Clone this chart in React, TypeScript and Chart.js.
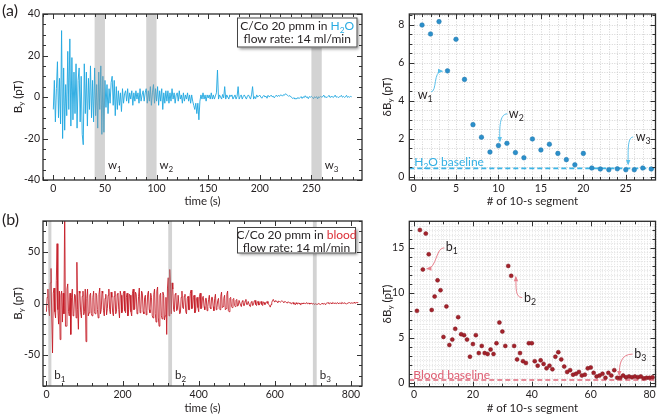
import React, { useEffect, useRef } from "react";
import { Chart, registerables } from "chart.js";
Chart.register(...registerables);

const FONT = "Lato, 'Open Sans', sans-serif";
const INK = "#231f20";

// ================= (a) left: B_y vs time, H2O =================
const STEP_A = 1; // seconds between samples
const byA: number[] = [
  -6, 8, -12, 4, 17, -10, 9, -13, 32, -20,
  14, -16, 6, -9, 22, -6, 28, -14, 19, -11,
  12, -8, 16, -15, 8, 14, -12, 10, -18, -23,
  16, -8, 12, -14, 9, -6, 15, -10, 8, -12,
  14, -9, 6, -15, 12, -6, 15, -18, 10, -17,
  8, -5, 6, -8, 4, -3, 7, 10, -4, 8,
  -9, 5, -6, 3, -4, 2, -7, 4, -3, 1.5,
  3, -2, 4, -3, 2, -1, 3, -4, 2, -2,
  3, -1, 2, -3, 4, -2, 1, 3, -2, 2,
  4, -3, 3, -2, 5, -4, 2, 6, -3, 4,
  -2, 5, -4, 3, -2, 4, -6, 2, -3, 3,
  -2, 3, -3, 2, -2, 4, -1, 2, -3, 1,
  2, -2, 3, -1, 1, -3, 2, -2, 1, -1,
  2, -2, 1, -3, 1, -2, -4, -6, -3, -8,
  -3, -11, -2, 1, -1, 2, -1, 1, -2, 1,
  -0.5, 1, -1, 2, -1, 1, -1, 0.5, 2, 13,
  -1, 1, 0, -1, 1.2, -0.4, 5, -1, 1, 0,
  -1, 1, 0.2, 1, -1, 0, 1, -1, 0.3, 5,
  -1, 0.2, 1, -1, 0.3, 1, 0, -1, 0.4, 1,
  0, -1, 1, 5, -1, 0.2, -0.8, 1, 0, 0.4,
  0.9, 0, -0.6, 0.3, 0.8, 0, 0.4, -0.6, 0.8, 0.1,
  0.3, 0.9, 0.1, 0.4, -0.4, 0.3, 0.9, 0.2, 0.8, 0.3,
  1.0, 0.9, 0.4, 1.1, 0.9, 1.6, 1.1, 0.8, 0.3, 0.7,
  0.1, -0.2, -0.8, -0.3, -1.0, -0.7, -0.9, -0.2, -0.8, -0.3,
  0.2, -0.7, 0.1, -0.3, 0.6, -0.2, 0.1, -0.8, 0.2, -0.1,
  0.3, -0.2, -0.8, 0.1, -0.3, 0.2, -0.9, 0.1, -0.2, 0.3,
  -0.1, 0.2, 0.9, -0.2, 0.1, -0.3, 0.2, 0.8, -0.2, 0.1,
  0.3, -0.2, 0.1, 0.9, -0.1, 0.2, -0.3, 0.1, 0.2, 0.8,
  -0.1, 0.3, -0.2, 0.1, 0.8, -0.2, 0.2, -0.1, 0.3, 0.1,
];
const bandsA = [
  { from: 40, to: 50, name: "w", sub: "1" },
  { from: 90, to: 100, name: "w", sub: "2" },
  { from: 250, to: 260, name: "w", sub: "3" },
];
const xTicksA = [0, 50, 100, 150, 200, 250];
const yTicksA = [-40, -20, 0, 20, 40];

// ================= (a) right: dB_y per 10-s segment, H2O =================
const dBA: number[] = [
  7.98, 7.51, 8.16, 5.57, 7.23, 5.12, 2.74, 2.08, 1.3, 1.64,
  1.76, 1.27, 1.0, 1.99, 1.41, 1.71, 1.23, 0.9, 0.63, 1.23,
  0.46, 0.41, 0.37, 0.42, 0.37, 0.37, 0.46, 0.41,
];
const baselineA = 0.44;
const xTicksA2 = [0, 5, 10, 15, 20, 25];
const yTicksA2 = [0, 2, 4, 6, 8];
const annA = [
  { name: "w", sub: "1", at: [1.37, 4.31], path: [[2.07, 4.47], [2.77, 4.47], [2.3, 5.57], [3.35, 5.55]] },
  { name: "w", sub: "2", at: [12.1, 3.3], path: [[11.05, 3.31], [10.12, 3.31], [10.12, 2.57], [10.17, 1.88]] },
  { name: "w", sub: "3", at: [27.04, 2.09], path: [[25.87, 2.09], [25.17, 2.09], [25.28, 1.3], [25.28, 0.67]] },
];

// ================= (b) left: B_y vs time, blood =================
const STEP_B = 2; // seconds between samples
const byB: number[] = [
  -8, 6, 14, -5, -12, 20, 34, -15, -48, 10,
  15, -8, -14, 22, 58, -6, -20, 12, -35, 8,
  12, -18, 10, -10, 95, -22, -22, 14, 19, -8,
  -12, 10, -30, 6, 14, -12, -10, 9, 8, -14,
  40, -6, -25, 12, 10, -9, -14, 7, 12, -11,
  -8, 14, -37, 5, 14, -12, -9, 8, 10, -10,
  -12, 6, 12, -8, -10, 10, 8, -6, -14, 9,
  15, -10, -6, 12, 10, -7, -12, 5, 9, -11,
  -5, 8, 14, -6, -10, 11, 6, -9, -12, 7,
  12, -10, -8, 9, 10, -6, -14, 12, 8, -9,
  -6, 10, 12, -7, -9, 6, 10, -12, -6, 9,
  8, -8, -12, 10, 14, -6, -5, 11, 9, -10,
  -8, 7, 15, -9, -6, 12, 10, -8, -10, 6,
  8, -11, -7, 9, 12, -6, -9, 10, 6, -12,
  -14, 9, 14, -10, -18, 12, 16, -14, -22, 8,
  10, -12, -15, 11, 8, -16, -12, 6, -30, 15,
  25, -12, 33, 18, -10, 20, 14, -6, -8, 9,
  10, -7, -6, 8, 8, -10, -9, 6, 12, -4,
  -5, 7, 9, -8, -10, 5, 7, -6, -6, 10,
  13, -5, -4, 6, 8, -9, -7, 5, 6, -4,
  -8, 7, 10, -5, -4, 6, 7, -3, -6, 5,
  5, -7, -3, 4, 8, -4, -5, 6, 6, -3,
  -7, 5, 9, -6, -4, 3, 5, -5, -6, 7,
  11, -4, -3, 5, 8, -6, -5, 9, 12, -7,
  -8, 5, 6, -3, -4, 4, 5, -2, -3, 3,
  4, -2.5, -2, 3, 3, -1.5, -3, 2, 3, -2,
  -2, 2.5, 4, -1, -1, 2, 2, -2.5, -3, 1.5,
  2, -2, -1, 2.5, 3, -1, -2, 1.5, 2, -1.5,
  -1, 1, 2, -1, -2, 1.5, 1, -1, 0, 1.5,
  2, 0, -1, -2, -3.5, -1, 1, 3, 4, 2,
  1.5, 2.8, 2.5, 1.5, 1, 2.4, 2, 1.2, 1.2, 2.5,
  2.2, 1.5, 1, 2, 1.8, 1, 0.6, 1.4, 1.6, 0.8,
  0.4, 0.8, -0.4, 0.3, 1, -0.6, -0.2, -1.2, 0.8, -0.3,
  -0.6, 0.5, 0.4, -0.5, -1.5, 0.2, 0.2, -0.5, 0.6, 0.1,
  -0.2, 0.5, 0.8, -0.3, 0.1, 0.5, -0.6, 0.1, 0.4, -0.5,
  -0.3, 0.2, -1.0, -0.3, -0.4, -0.9, -0.8, -0.1, -0.2, -0.7,
  -1.0, -0.4, 0.2, -0.3, -0.5, 0.1, -0.9, -0.2, 0.3, 0.6,
  0.8, 0.1, -0.2, 0.5, 0.4, -0.3, 1.0, 0.4, 0.1, 0.6,
  0.2, -0.2, 0.9, 0.3, -0.2, 0.6, 0.3, -0.1, 1.1, 0.5,
  0.1, 0.6, 0.4, -0.1, -0.6, 0.2, 0.3, 0.8, 0.9, 0.3,
  0.2, 0.7, 0.4, 0.1, 1.2, 0.5, 0.3, 0.9, 1.0, 0.6,
];
const bandsB = [
  { from: 5, to: 13, name: "b", sub: "1" },
  { from: 320, to: 330, name: "b", sub: "2" },
  { from: 700, to: 710, name: "b", sub: "3" },
];
const xTicksB = [0, 200, 400, 600, 800];
const yTicksB = [-50, 0, 50];

// ================= (b) right: dB_y per 10-s segment, blood =================
const dBB: number[] = [
  8.0, 17.0, 12.6, 16.6, 14.3, 8.1, 9.6, 11.4, 10.3, 5.1,
  8.5, 4.2, 4.8, 6.0, 7.3, 5.4, 5.3, 4.8, 2.9, 4.3,
  5.3, 3.3, 4.1, 3.3, 3.2, 3.7, 3.2, 4.4, 6.7, 5.7,
  4.1, 13.0, 11.9, 4.1, 2.6, 3.3, 2.4, 2.2, 4.4, 4.4,
  2.4, 1.9, 2.5, 2.1, 1.6, 1.9, 1.5, 2.9, 3.4, 2.6,
  1.8, 1.2, 1.4, 0.9, 1.0, 1.2, 0.8, 0.9, 1.6, 1.7,
  1.1, 0.7, 0.8, 1.0, 0.55, 1.1, 0.8, 1.4, 0.55, 0.55,
  0.8, 0.6, 0.7, 0.6, 0.7, 0.6, 0.7, 0.5, 0.55, 0.55, 0.6,
];
const baselineB = 0.3;
const xTicksB2 = [0, 20, 40, 60, 80];
const yTicksB2 = [0, 5, 10, 15];
const annB = [
  { name: "b", sub: "1", at: [12.8, 15.1], path: [[10.27, 15.02], [7.41, 15.08], [7.74, 12.74], [4.55, 12.69]] },
  { name: "b", sub: "2", at: [39.4, 9.41], path: [[36.7, 9.47], [34.34, 9.52], [34.7, 10.52], [34.58, 11.74]] },
  { name: "b", sub: "3", at: [76.8, 3.19], path: [[74.24, 3.19], [70.03, 3.19], [69.7, 1.97], [69.7, 0.86]] },
];

// ---------------- drawing helpers ----------------
type Part = [string, boolean?, string?];
function rich(ctx: CanvasRenderingContext2D, parts: Part[], x: number, y: number, size: number, align: string, color: string, subDrop = 0.25) {
  const fontOf = (sub?: boolean) => `${sub ? size * 0.7 : size}px ${FONT}`;
  let w = 0;
  for (const p of parts) { ctx.font = fontOf(p[1]); w += ctx.measureText(p[0]).width; }
  let cx = align === "center" ? x - w / 2 : align === "right" ? x - w : x;
  ctx.textAlign = "left";
  ctx.textBaseline = "alphabetic";
  for (const p of parts) {
    ctx.font = fontOf(p[1]);
    ctx.fillStyle = p[2] || color;
    ctx.fillText(p[0], cx, p[1] ? y + size * subDrop : y);
    cx += ctx.measureText(p[0]).width;
  }
  return w;
}

function isMult(v: number, step: number) {
  const r = v / step;
  return Math.abs(r - Math.round(r)) < 1e-6;
}

function forSteps(scale: any, step: number, cb: (px: number, v: number) => void) {
  for (let k = Math.ceil(scale.min / step - 1e-9); k * step <= scale.max + 1e-9; k++) {
    cb(scale.getPixelForValue(k * step), k * step);
  }
}

function drawFrame(chart: any, xMinor: number, xMajor: number, yMinor: number, yMajor: number) {
  const { ctx, chartArea: a, scales } = chart;
  const x = scales.x, y = scales.y;
  ctx.save();
  ctx.strokeStyle = "#333";
  ctx.lineWidth = 1;
  ctx.beginPath();
  forSteps(x, xMinor, (px, v) => {
    const L = isMult(v, xMajor) ? 5 : 3;
    const p = Math.round(px) + 0.5;
    ctx.moveTo(p, a.bottom); ctx.lineTo(p, a.bottom - L);
    ctx.moveTo(p, a.top); ctx.lineTo(p, a.top + L);
  });
  forSteps(y, yMinor, (py, v) => {
    const L = isMult(v, yMajor) ? 5 : 3;
    const p = Math.round(py) + 0.5;
    ctx.moveTo(a.left, p); ctx.lineTo(a.left + L, p);
    ctx.moveTo(a.right, p); ctx.lineTo(a.right - L, p);
  });
  ctx.stroke();
  ctx.lineWidth = 1.3;
  ctx.strokeStyle = "#2b2b2b";
  ctx.strokeRect(a.left, a.top, a.width, a.height);
  ctx.restore();
}

function drawGrid(chart: any, xStep: number, yStep: number, color: string) {
  const { ctx, chartArea: a, scales } = chart;
  ctx.save();
  ctx.strokeStyle = color;
  ctx.lineWidth = 0.8;
  ctx.setLineDash([1, 1.5]);
  ctx.beginPath();
  forSteps(scales.x, xStep, (px) => { const p = Math.round(px) + 0.5; ctx.moveTo(p, a.top); ctx.lineTo(p, a.bottom); });
  forSteps(scales.y, yStep, (py) => { const p = Math.round(py) + 0.5; ctx.moveTo(a.left, p); ctx.lineTo(a.right, p); });
  ctx.stroke();
  ctx.restore();
}

function drawBands(chart: any, bands: any[], labelY: number) {
  const { ctx, chartArea: a, scales } = chart;
  ctx.save();
  ctx.beginPath();
  ctx.rect(a.left, a.top, a.width, a.height);
  ctx.clip();
  ctx.fillStyle = "rgba(150,150,150,0.42)";
  for (const b of bands) {
    const x0 = scales.x.getPixelForValue(b.from);
    const x1 = scales.x.getPixelForValue(b.to);
    ctx.fillRect(x0, a.top, x1 - x0, a.height);
  }
  ctx.restore();
  ctx.save();
  for (const b of bands) {
    const x1 = scales.x.getPixelForValue(b.to);
    rich(ctx, [[b.name], [b.sub, true]], x1 + 3, scales.y.getPixelForValue(labelY) + 4, 11.5, "left", INK);
  }
  ctx.restore();
}

function drawAnnotations(chart: any, anns: any[], color: string) {
  const { ctx, scales } = chart;
  const P = (p: number[]) => [scales.x.getPixelForValue(p[0]), scales.y.getPixelForValue(p[1])];
  ctx.save();
  for (const an of anns) {
    const [lx, ly] = P(an.at);
    rich(ctx, [[an.name], [an.sub, true]], lx, ly + 4, 12.5, "center", INK);
    const [p0, c1, c2, p3] = an.path.map(P);
    ctx.strokeStyle = color;
    ctx.lineWidth = 1;
    ctx.beginPath();
    ctx.moveTo(p0[0], p0[1]);
    ctx.bezierCurveTo(c1[0], c1[1], c2[0], c2[1], p3[0], p3[1]);
    ctx.stroke();
    const ang = Math.atan2(p3[1] - c2[1], p3[0] - c2[0]);
    const L = 4, W = 2.2;
    ctx.fillStyle = color;
    ctx.beginPath();
    ctx.moveTo(p3[0] + Math.cos(ang) * 1.5, p3[1] + Math.sin(ang) * 1.5);
    ctx.lineTo(p3[0] - Math.cos(ang) * L - Math.sin(ang) * W, p3[1] - Math.sin(ang) * L + Math.cos(ang) * W);
    ctx.lineTo(p3[0] - Math.cos(ang) * L + Math.sin(ang) * W, p3[1] - Math.sin(ang) * L - Math.cos(ang) * W);
    ctx.closePath();
    ctx.fill();
  }
  ctx.restore();
}

function drawLegendBox(ctx: CanvasRenderingContext2D, x: number, y: number, w: number, h: number, line1: Part[], line2: Part[], y1: number, y2: number) {
  ctx.save();
  ctx.shadowColor = "rgba(0,0,0,0.45)";
  ctx.shadowBlur = 3;
  ctx.shadowOffsetX = 1.5;
  ctx.shadowOffsetY = 1.5;
  ctx.fillStyle = "#fff";
  ctx.fillRect(x, y, w, h);
  ctx.restore();
  ctx.save();
  ctx.strokeStyle = "#444";
  ctx.lineWidth = 1;
  ctx.strokeRect(x + 0.5, y + 0.5, w - 1, h - 1);
  rich(ctx, line1, x + w / 2, y1, 12, "center", INK);
  rich(ctx, line2, x + w / 2, y2, 12, "center", INK);
  ctx.restore();
}

function vTitle(ctx: CanvasRenderingContext2D, parts: Part[], cx: number, cy: number, size: number) {
  ctx.save();
  ctx.translate(cx + size * 0.35, cy);
  ctx.rotate(-Math.PI / 2);
  rich(ctx, parts, 0, 0, size, "center", INK, 0.18);
  ctx.restore();
}

function scaleCfg(min: number, max: number, ticks: number[], dir: "x" | "y", size: number, pad = 3) {
  return {
    type: "linear",
    position: dir === "x" ? "bottom" : "left",
    min,
    max,
    afterBuildTicks: (s: any) => { s.ticks = ticks.map((v) => ({ value: v })); },
    afterFit: (s: any) => { if (dir === "y") s.width = size; else s.height = size; },
    grid: { display: false, drawTicks: false },
    border: { display: false },
    ticks: {
      font: { family: FONT, size: 10.5 },
      color: INK,
      padding: dir === "x" ? 2 : pad,
      maxRotation: 0,
      autoSkip: false,
      includeBounds: false,
    },
  };
}

const commonOpts = {
  responsive: false,
  animation: false,
  devicePixelRatio: 1,
  events: [],
  plugins: { legend: { display: false }, tooltip: { enabled: false } },
};

// ---------------- chart builders ----------------
function buildA(canvas: HTMLCanvasElement) {
  return new Chart(canvas, {
    type: "line",
    data: {
      datasets: [{
        data: byA.map((v, i) => ({ x: i * STEP_A, y: v })),
        borderColor: "rgba(35,168,225,0.92)",
        borderWidth: 1,
        pointRadius: 0,
        tension: 0,
      }],
    },
    options: {
      ...commonOpts,
      layout: { padding: { left: 0, top: 14, right: 8, bottom: 0 } },
      scales: {
        x: scaleCfg(-10, 299, xTicksA, "x", 30),
        y: scaleCfg(-40, 40, yTicksA, "y", 43),
      },
    } as any,
    plugins: [{
      id: "decorA",
      afterDatasetsDraw(chart: any) { drawBands(chart, bandsA, -33); },
      afterDraw(chart: any) {
        const ctx = chart.ctx, a = chart.chartArea;
        drawFrame(chart, 10, 50, 5, 20);
        drawLegendBox(ctx, 237, 17.5, 120.5, 30,
          [["C/Co 20 pmm in "], ["H", false, "#29abe2"], ["2", true, "#29abe2"], ["O", false, "#29abe2"]],
          [["flow rate: 14 ml/min"]], 29.5, 43);
        ctx.save();
        rich(ctx, [["(a)"]], 2, 15.5, 16, "left", INK);
        vTitle(ctx, [["B"], ["y", true], [" (pT)"]], 17.5, (a.top + a.bottom) / 2, 11.5);
        rich(ctx, [["time (s)"]], (a.left + a.right) / 2, 205, 11.5, "center", INK);
        ctx.restore();
      },
    }],
  } as any);
}

function buildB(canvas: HTMLCanvasElement) {
  return new Chart(canvas, {
    type: "scatter",
    data: {
      datasets: [
        {
          data: dBA.map((v, i) => ({ x: i + 1, y: v })),
          backgroundColor: "#2b8fca",
          borderColor: "#1f77ad",
          borderWidth: 0.5,
          pointRadius: 2.3,
        },
        {
          type: "line",
          data: [{ x: -0.5, y: baselineA }, { x: 28.5, y: baselineA }],
          borderColor: "#3db5e6",
          borderWidth: 1.6,
          borderDash: [5, 3],
          pointRadius: 0,
        },
      ],
    },
    options: {
      ...commonOpts,
      layout: { padding: { left: 0, top: 14, right: 2.3, bottom: 0 } },
      scales: {
        x: scaleCfg(-0.5, 28.5, xTicksA2, "x", 30),
        y: scaleCfg(-0.17, 8.56, yTicksA2, "y", 39.3, 5),
      },
    } as any,
    plugins: [{
      id: "decorB",
      beforeDatasetsDraw(chart: any) { drawGrid(chart, 1, 0.5, "#c9c9c9"); },
      afterDraw(chart: any) {
        const ctx = chart.ctx, a = chart.chartArea;
        drawFrame(chart, 1, 5, 0.5, 2);
        ctx.save();
        rich(ctx, [["H"], ["2", true], ["O baseline"]], a.left + 5, chart.scales.y.getPixelForValue(baselineA) - 2, 12, "left", "#33b0e3");
        drawAnnotations(chart, annA, "#5cc0ea");
        vTitle(ctx, [["δB"], ["y", true], [" (pT)"]], 16.5, (a.top + a.bottom) / 2, 11.5);
        rich(ctx, [["# of 10-s segment"]], (a.left + a.right) / 2, 205, 11.5, "center", INK);
        ctx.restore();
      },
    }],
  } as any);
}

function buildC(canvas: HTMLCanvasElement) {
  return new Chart(canvas, {
    type: "line",
    data: {
      datasets: [{
        data: byB.map((v, i) => ({ x: i * STEP_B, y: v })),
        borderColor: "rgba(196,26,36,0.88)",
        borderWidth: 1,
        pointRadius: 0,
        tension: 0,
      }],
    },
    options: {
      ...commonOpts,
      layout: { padding: { left: 0, top: 11, right: 8, bottom: 0 } },
      scales: {
        x: scaleCfg(-9, 829, xTicksB, "x", 32),
        y: scaleCfg(-80, 80, yTicksB, "y", 43),
      },
    } as any,
    plugins: [{
      id: "decorC",
      afterDatasetsDraw(chart: any) { drawBands(chart, bandsB, -69); },
      afterDraw(chart: any) {
        const ctx = chart.ctx, a = chart.chartArea;
        drawFrame(chart, 40, 200, 10, 50);
        drawLegendBox(ctx, 237, 17, 119, 26.5,
          [["C/Co 20 pmm in "], ["blood", false, "#dc2e36"]],
          [["flow rate: 14 ml/min"]], 29, 41.5);
        ctx.save();
        rich(ctx, [["(b)"]], 2, 15, 16, "left", INK);
        vTitle(ctx, [["B"], ["y", true], [" (pT)"]], 17.5, (a.top + a.bottom) / 2, 11.5);
        rich(ctx, [["time (s)"]], (a.left + a.right) / 2, 202, 11.5, "center", INK);
        ctx.restore();
      },
    }],
  } as any);
}

function buildD(canvas: HTMLCanvasElement) {
  return new Chart(canvas, {
    type: "scatter",
    data: {
      datasets: [
        {
          data: dBB.map((v, i) => ({ x: i + 1, y: v })),
          backgroundColor: "#a3222b",
          borderColor: "#7f1820",
          borderWidth: 0.5,
          pointRadius: 2,
        },
        {
          type: "line",
          data: [{ x: -1.6, y: baselineB }, { x: 82, y: baselineB }],
          borderColor: "#e0677a",
          borderWidth: 1.6,
          borderDash: [5, 3],
          pointRadius: 0,
        },
      ],
    },
    options: {
      ...commonOpts,
      layout: { padding: { left: 0, top: 11, right: 2.3, bottom: 0 } },
      scales: {
        x: scaleCfg(-1.6, 82, xTicksB2, "x", 31.3),
        y: scaleCfg(-0.44, 17.97, yTicksB2, "y", 39.3, 5),
      },
    } as any,
    plugins: [{
      id: "decorD",
      beforeDatasetsDraw(chart: any) { drawGrid(chart, 1, 0.5, "#dadada"); },
      afterDraw(chart: any) {
        const ctx = chart.ctx, a = chart.chartArea;
        drawFrame(chart, 5, 20, 1, 5);
        ctx.save();
        rich(ctx, [["Blood baseline"]], a.left + 4, chart.scales.y.getPixelForValue(baselineB) - 1.5, 12, "left", "#df5d72");
        drawAnnotations(chart, annB, "#e8838f");
        vTitle(ctx, [["δB"], ["y", true], [" (pT)"]], 16.5, (a.top + a.bottom) / 2, 11.5);
        rich(ctx, [["# of 10-s segment"]], (a.left + a.right) / 2, 202, 11.5, "center", INK);
        ctx.restore();
      },
    }],
  } as any);
}

function Panel(props: { left: number; top: number; width: number; height: number; build: (c: HTMLCanvasElement) => Chart }) {
  const ref = useRef<HTMLCanvasElement | null>(null);
  useEffect(() => {
    if (!ref.current) return;
    const chart = props.build(ref.current);
    return () => chart.destroy();
  }, []);
  return (
    <canvas
      ref={ref}
      width={props.width}
      height={props.height}
      style={{ position: "absolute", left: props.left, top: props.top, width: props.width, height: props.height }}
    />
  );
}

export default function App() {
  return (
    <div style={{ position: "absolute", left: 0, top: 0, width: 660, height: 418, background: "#fff", overflow: "hidden" }}>
      <Panel left={0} top={0} width={370} height={210} build={buildA} />
      <Panel left={370} top={0} width={290} height={210} build={buildB} />
      <Panel left={0} top={210} width={370} height={208} build={buildC} />
      <Panel left={370} top={210} width={290} height={208} build={buildD} />
    </div>
  );
}
